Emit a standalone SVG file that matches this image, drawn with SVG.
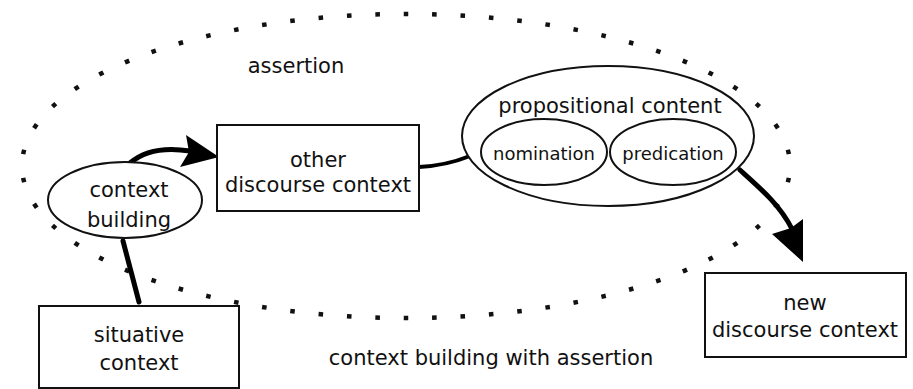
<svg xmlns="http://www.w3.org/2000/svg" width="913" height="389" viewBox="0 0 913 389">
<style>
  text { font-family: "DejaVu Sans", "Liberation Sans", sans-serif; font-size: 21px; fill: #111; text-anchor: middle; }
  .small { font-size: 18px; }
  .box { fill: #fff; stroke: #111; stroke-width: 2; }
  .ell { fill: #fff; stroke: #111; stroke-width: 2; }
  .conn { fill: none; stroke: #000; stroke-width: 5; stroke-linecap: round; }
  .head { fill: #000; stroke: none; }
  .dots { fill: none; stroke: #111; stroke-width: 4.5; }
</style>
<rect width="913" height="389" fill="#fff"/>
<g id="assertion-boundary">
  <ellipse class="dots" cx="406" cy="166" rx="384" ry="152" pathLength="62" stroke-dasharray="0.16 0.84" stroke-dashoffset="0.58"/>
  <text x="296" y="73">assertion</text>
  <text x="491" y="365">context building with assertion</text>
</g>
<g id="connectors">
  <path class="conn" d="M139,302 L123,241"/>
  <path class="conn" d="M130,163 C145,150 165,147 190,151"/>
  <polygon class="head" points="219,157 186,135 189,152 180,167"/>
  <path class="conn" style="stroke-width:4" d="M419,167 C440,166 455,162 470,156"/>
  <path class="conn" d="M740,170 C760,188 780,205 792,229"/>
  <polygon class="head" points="803,262 772,234 791,228 803,219"/>
</g>
<g id="node-other">
  <rect class="box" x="217" y="125" width="202" height="86"/>
  <text x="318" y="167">other</text>
  <text x="318" y="192">discourse context</text>
</g>
<g id="node-context-building">
  <ellipse class="ell" cx="125" cy="200" rx="77" ry="38"/>
  <text x="129" y="197">context</text>
  <text x="129" y="227">building</text>
</g>
<g id="node-situative">
  <rect class="box" x="39" y="306" width="200" height="82"/>
  <text x="139" y="342">situative</text>
  <text x="139" y="370">context</text>
</g>
<g id="node-propositional">
  <ellipse class="ell" cx="608" cy="136" rx="146" ry="70"/>
  <text x="610" y="113">propositional content</text>
  <g id="node-nomination">
    <ellipse class="ell" cx="544" cy="152" rx="63" ry="33"/>
    <text class="small" x="544" y="160">nomination</text>
  </g>
  <g id="node-predication">
    <ellipse class="ell" cx="673" cy="152" rx="63" ry="33"/>
    <text class="small" x="673" y="160">predication</text>
  </g>
</g>
<g id="node-new">
  <rect class="box" x="705" y="273" width="201" height="84"/>
  <text x="805" y="310">new</text>
  <text x="805" y="337">discourse context</text>
</g>
</svg>
